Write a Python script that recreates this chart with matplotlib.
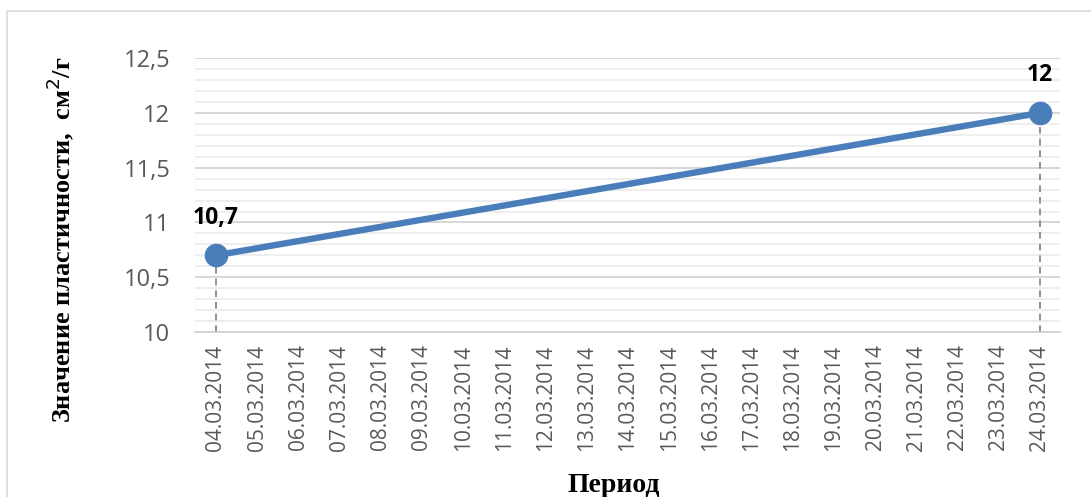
import matplotlib.pyplot as plt
from matplotlib.patches import Rectangle
from matplotlib.ticker import MultipleLocator, FuncFormatter

dates = ['%02d.03.2014' % d for d in range(4, 25)]
point_dates = ['04.03.2014', '24.03.2014']
point_values = [10.7, 12.0]
point_labels = ['10,7', '12']

fig = plt.figure(figsize=(10.91, 4.97), dpi=100)
ax = fig.add_axes([0.179, 0.332, 0.793, 0.551])

xs = [dates.index(d) for d in point_dates]
line_color = '#4a7ebb'
ax.plot(xs, point_values, color=line_color, lw=4.6, marker='o', ms=16,
        zorder=3, solid_capstyle='round')
ax.vlines(xs, 10, point_values, colors='#7f7f7f', linestyles=(0, (4, 3)),
          lw=1.2, zorder=2)
for x, v, t in zip(xs, point_values, point_labels):
    ax.annotate(t, (x, v), xytext=(0, 27), textcoords='offset points',
                ha='center', va='center', fontsize=16.5, fontweight='bold',
                family='Open Sans', color='black')

ax.set_xlim(-0.5, len(dates) - 0.5)
ax.set_ylim(10, 12.5)
ax.set_xticks(range(len(dates)))
ax.set_xticklabels(dates, rotation=90, family='Open Sans', fontsize=15,
                   color='#595959')
ax.yaxis.set_major_locator(MultipleLocator(0.5))
ax.yaxis.set_minor_locator(MultipleLocator(0.1))
ax.yaxis.set_major_formatter(FuncFormatter(lambda v, p: ('%g' % v).replace('.', ',')))
for lab in ax.get_yticklabels():
    lab.set_family('Open Sans')
    lab.set_fontsize(17)
    lab.set_color('#595959')
ax.tick_params(axis='both', which='both', length=0)
ax.tick_params(axis='x', pad=9)
ax.tick_params(axis='y', pad=18)
ax.grid(True, which='major', axis='y', color='#d0d0d0', lw=1.2)
ax.grid(True, which='minor', axis='y', color='#ebebeb', lw=1.2)
for s in ['top', 'right', 'left']:
    ax.spines[s].set_visible(False)
ax.spines['bottom'].set_color('#d0d0d0')
ax.spines['bottom'].set_linewidth(1.2)
ax.set_axisbelow(True)

fig.text(60 / 1091, 1 - 240 / 497, 'Значение пластичности,  см$^{2}$/г',
         family='Liberation Serif', fontweight='bold', fontsize=19,
         rotation=90, ha='center', va='center')
fig.text(614 / 1091, 1 - 485 / 497, 'Период', family='Liberation Serif',
         fontweight='bold', fontsize=20, ha='center', va='center')

fig.patches.append(Rectangle((0.006, -0.1), 1.5, 1.078, transform=fig.transFigure,
                             fill=False, edgecolor='#d9d9d9', lw=1.2))

fig.savefig('out.png', dpi=100)
